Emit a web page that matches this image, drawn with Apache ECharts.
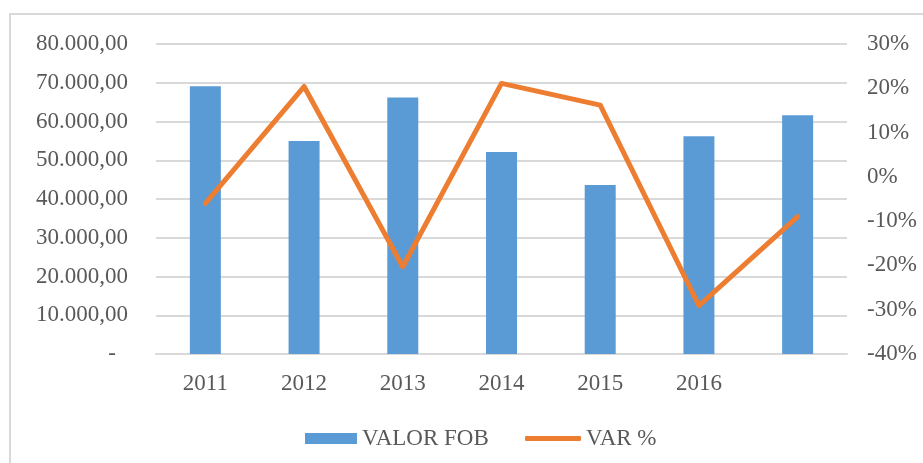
<!DOCTYPE html>
<html>
<head>
<meta charset="utf-8">
<script src="https://cdn.jsdelivr.net/npm/echarts@6/dist/echarts.min.js"></script>
<style>
html,body{margin:0;padding:0;background:#fff;}
#chart{width:923px;height:463px;}
</style>
</head>
<body>
<div id="chart"></div>
<script>
var categories = ['2011', '2012', '2013', '2014', '2015', '2016', ''];
var valorFob = [69100, 55000, 66200, 52100, 43600, 56200, 61600];
var varPct = [-6.0, 20.4, -20.3, 21.1, 16.2, -29.1, -9.0];

var FONT = "'Liberation Serif', 'Times New Roman', serif";
var TXT = '#595959';
var GRID = '#d9d9d9';
var FS = 23;

function fmtFob(v) {
  if (v === 0) return '{z|-}';
  var s = String(Math.round(v));
  s = s.replace(/\B(?=(\d{3})+(?!\d))/g, '.');
  return s + ',00';
}

var chart = echarts.init(document.getElementById('chart'), null, {renderer: 'canvas'});
chart.setOption({
  animation: false,
  backgroundColor: '#fff',
  textStyle: {fontFamily: FONT},
  graphic: [{
    type: 'rect',
    shape: {x: 10, y: 14, width: 1000, height: 1000},
    style: {fill: 'none', stroke: GRID, lineWidth: 2},
    silent: true,
    z: -1
  }],
  grid: {left: 156, right: 76, top: 44, bottom: 109, containLabel: false},
  legend: [{
    left: 300,
    top: 422,
    itemWidth: 52,
    itemHeight: 11,
    textStyle: {fontFamily: FONT, fontSize: FS, color: TXT},
    data: [{name: 'VALOR FOB', icon: 'rect'}]
  }, {
    left: 520,
    top: 422,
    itemWidth: 56,
    itemHeight: 5,
    itemGap: 0,
    textStyle: {fontFamily: FONT, fontSize: FS, color: TXT},
    data: [{name: 'VAR %', icon: 'roundRect'}]
  }],
  xAxis: {
    type: 'category',
    data: categories,
    axisLine: {show: true, lineStyle: {color: GRID, width: 2}},
    axisTick: {show: false},
    axisLabel: {fontFamily: FONT, fontSize: FS, color: TXT, margin: 18, interval: 0}
  },
  yAxis: [{
    type: 'value',
    min: 0, max: 80000, interval: 10000,
    axisLine: {show: false},
    axisTick: {show: false},
    splitLine: {lineStyle: {color: GRID, width: 2}},
    axisLabel: {
      fontFamily: FONT, fontSize: FS, color: TXT, margin: 28,
      formatter: fmtFob,
      rich: {z: {fontFamily: FONT, fontSize: FS, color: TXT, padding: [0, 12, 0, 0]}}
    }
  }, {
    type: 'value',
    min: -40, max: 30, interval: 10,
    axisLine: {show: false},
    axisTick: {show: false},
    splitLine: {show: false},
    axisLabel: {
      fontFamily: FONT, fontSize: FS, color: TXT, margin: 20,
      formatter: function (v) { return v + '%'; }
    }
  }],
  series: [{
    name: 'VALOR FOB',
    type: 'bar',
    data: valorFob,
    barWidth: 31,
    itemStyle: {color: '#5B9BD5'},
    yAxisIndex: 0
  }, {
    name: 'VAR %',
    type: 'line',
    data: varPct,
    yAxisIndex: 1,
    symbol: 'none',
    lineStyle: {color: '#ED7D31', width: 5, cap: 'round', join: 'round'},
    itemStyle: {color: '#ED7D31'}
  }]
});
</script>
</body>
</html>
